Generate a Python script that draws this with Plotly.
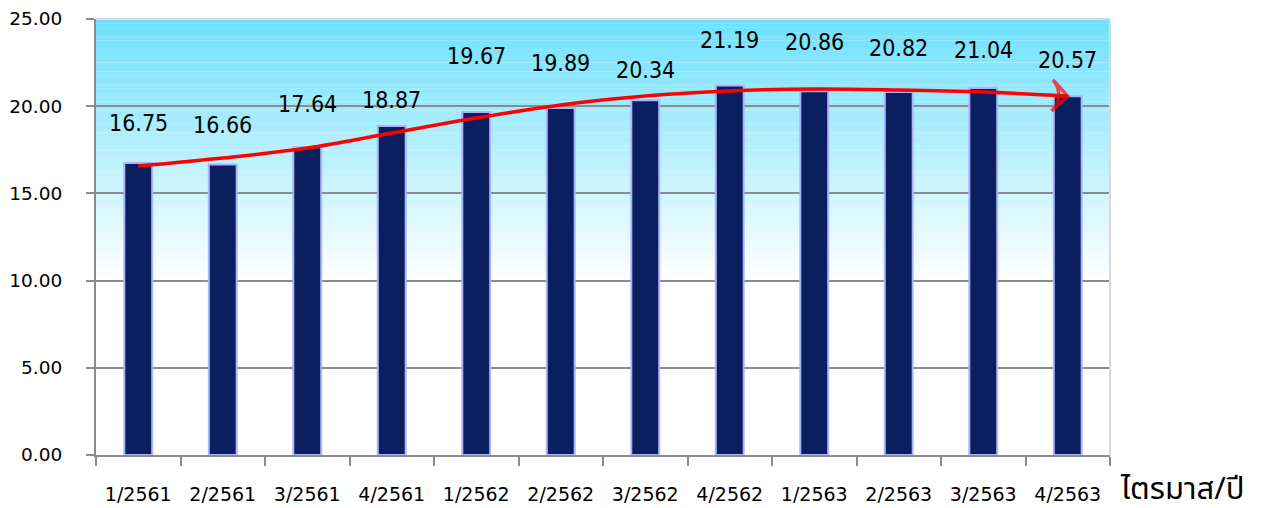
import plotly.graph_objects as go

# ---- data ----
quarters = ["1/2561", "2/2561", "3/2561", "4/2561", "1/2562", "2/2562",
            "3/2562", "4/2562", "1/2563", "2/2563", "3/2563", "4/2563"]
values = [16.75, 16.66, 17.64, 18.87, 19.67, 19.89,
          20.34, 21.19, 20.86, 20.82, 21.04, 20.57]
trend = [16.57, 17.03, 17.60, 18.46, 19.32, 20.07,
         20.58, 20.87, 20.99, 20.93, 20.81, 20.58]
ytick_vals = [0, 5, 10, 15, 20, 25]
ytick_text = ["0.00", "5.00", "10.00", "15.00", "20.00", "25.00"]
axis_title = "ไตรมาส/ปี"

# label pixel offsets above bars (styling)
label_shift = [40, 39, 43, 26, 56, 45, 30, 45, 49, 44, 38, 36]

fig = go.Figure()

fig.add_trace(go.Bar(
    x=quarters, y=values, width=0.33,
    marker=dict(color="#0B1F5E", line=dict(color="#A9B3FF", width=2)),
    hoverinfo="x+y", showlegend=False,
))

n = len(trend)
fig.add_trace(go.Scatter(
    x=quarters, y=trend, mode="lines+markers",
    line=dict(color="#FF0000", width=3.5, shape="spline", smoothing=1.0),
    marker=dict(symbol="arrow-wide-open", size=[0] * (n - 1) + [22],
                angleref="previous", color="#FF0000",
                line=dict(color="#FF0000", width=3.5)),
    hoverinfo="skip", showlegend=False,
))

# gradient background (cyan at top fading to white)
shapes = []
steps = 60
top_rgb = (0x6E, 0xE0, 0xFC)
lo, hi = 10.0, 25.0
for i in range(steps):
    y0 = lo + (hi - lo) * i / steps
    y1 = lo + (hi - lo) * (i + 1) / steps
    f = (i + 0.5) / steps
    r = round(255 + (top_rgb[0] - 255) * f)
    g = round(255 + (top_rgb[1] - 255) * f)
    b = round(255 + (top_rgb[2] - 255) * f)
    shapes.append(dict(type="rect", xref="paper", yref="y", x0=0, x1=1,
                       y0=y0, y1=y1 + 0.01, line=dict(width=0),
                       fillcolor=f"rgb({r},{g},{b})", layer="below"))
# top and right frame lines
shapes.append(dict(type="line", xref="paper", yref="paper", x0=0, x1=1, y0=1, y1=1,
                   line=dict(color="#D9D9D9", width=2)))
shapes.append(dict(type="line", xref="paper", yref="paper", x0=1, x1=1, y0=0, y1=1,
                   line=dict(color="#D9D9D9", width=2)))

annotations = []
for q, v, s in zip(quarters, values, label_shift):
    annotations.append(dict(x=q, y=v, xref="x", yref="y", text=f"{v:.2f}",
                            showarrow=False, yanchor="middle", yshift=s,
                            font=dict(family="DejaVu Sans Condensed", size=23, color="#000000")))
annotations.append(dict(x=1, y=0, xref="paper", yref="paper", text=axis_title,
                        showarrow=False, xanchor="left", yanchor="middle",
                        xshift=8, yshift=-34,
                        font=dict(family="Noto Sans Thai, Loma, Garuda, Tahoma, sans-serif",
                                  size=31, color="#000000")))

# page body has an 8px margin, so figure is sized 8px smaller to fit the window
fig.update_layout(
    width=1254, height=500,
    margin=dict(l=88, r=152, t=11, b=53, pad=0),
    paper_bgcolor="white", plot_bgcolor="white",
    bargap=0.67,
    shapes=shapes, annotations=annotations,
    xaxis=dict(
        type="category", tickson="boundaries", ticks="outside", ticklen=9,
        tickwidth=2, tickcolor="#8C8C8C", showline=True, linecolor="#8C8C8C",
        linewidth=2, showgrid=False, ticklabelstandoff=21, automargin=False,
        ticklabeloverflow="allow",
        tickfont=dict(family="DejaVu Sans", size=19, color="#000000"),
        range=[-0.5, 11.5],
    ),
    yaxis=dict(
        range=[0, 25], tickvals=ytick_vals, ticktext=ytick_text,
        ticks="outside", ticklen=8, tickwidth=2, tickcolor="#8C8C8C",
        showline=True, linecolor="#8C8C8C", linewidth=2,
        showgrid=True, gridcolor="#8C8C8C", gridwidth=2, automargin=False,
        ticklabelstandoff=20, zeroline=False, ticklabeloverflow="allow",
        tickfont=dict(family="DejaVu Sans", size=18.5, color="#000000"),
    ),
)

fig.write_html("out.html")
